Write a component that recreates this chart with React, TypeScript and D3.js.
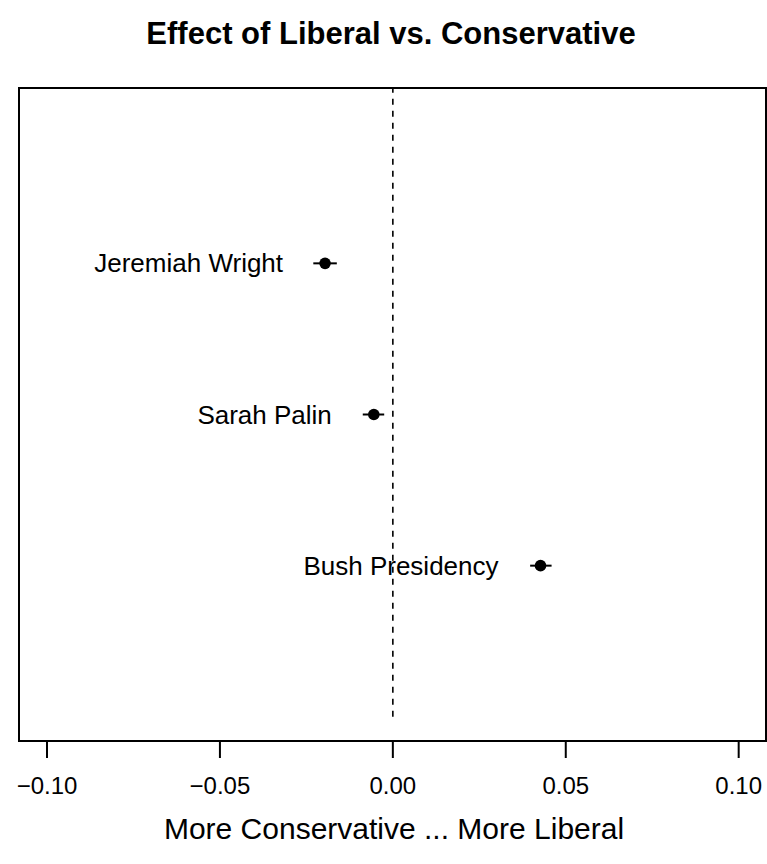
import React from "react";
import * as d3 from "d3";

const labels = ["Jeremiah Wright", "Sarah Palin", "Bush Presidency"];
const positions = [3, 2, 1];
const estimates = [-0.0196, -0.0055, 0.0427];
const lower = [-0.023, -0.0087, 0.0397];
const upper = [-0.0162, -0.0025, 0.0459];
const xTicks = [-0.1, -0.05, 0, 0.05, 0.1];

const W = 767;
const H = 864;
const box = { left: 19, right: 766, top: 88, bottom: 741 };
const font = "Liberation Sans, Arial, Helvetica, sans-serif";

export default function App() {
  const x = d3.scaleLinear().domain([-0.1081, 0.1079]).range([box.left, box.right]);
  const y = d3.scaleLinear().domain([-0.16, 4.16]).range([box.bottom, box.top]);
  const fmt = (v: number) => (v < 0 ? "\u2212" : "") + Math.abs(v).toFixed(2);
  return (
    <svg width={W} height={H} style={{ position: "absolute", left: 0, top: 0, background: "#fff" }}>
      <text x={391} y={44} textAnchor="middle" fontFamily={font} fontWeight="bold" fontSize={31}>
        Effect of Liberal vs. Conservative
      </text>
      <line x1={x(0)} x2={x(0)} y1={y(0)} y2={box.top} stroke="#000" strokeWidth={1.6} strokeDasharray="6,6" />
      {labels.map((l, i) => (
        <g key={l}>
          <line x1={x(lower[i])} x2={x(upper[i])} y1={y(positions[i])} y2={y(positions[i])} stroke="#000" strokeWidth={2} />
          <circle cx={x(estimates[i])} cy={y(positions[i])} r={5.8} fill="#000" />
          <text x={x(estimates[i]) - 42} y={y(positions[i]) + 9} textAnchor="end" fontFamily={font} fontSize={26}>
            {l}
          </text>
        </g>
      ))}
      <rect x={box.left} y={box.top} width={box.right - box.left} height={box.bottom - box.top} fill="none" stroke="#000" strokeWidth={2} />
      {xTicks.map((t) => (
        <g key={t}>
          <line x1={x(t)} x2={x(t)} y1={box.bottom} y2={box.bottom + 17} stroke="#000" strokeWidth={2} />
          <text x={x(t)} y={794} textAnchor="middle" fontFamily={font} fontSize={24}>
            {fmt(t)}
          </text>
        </g>
      ))}
      <text x={394} y={839} textAnchor="middle" fontFamily={font} fontSize={30}>
        More Conservative ... More Liberal
      </text>
    </svg>
  );
}
